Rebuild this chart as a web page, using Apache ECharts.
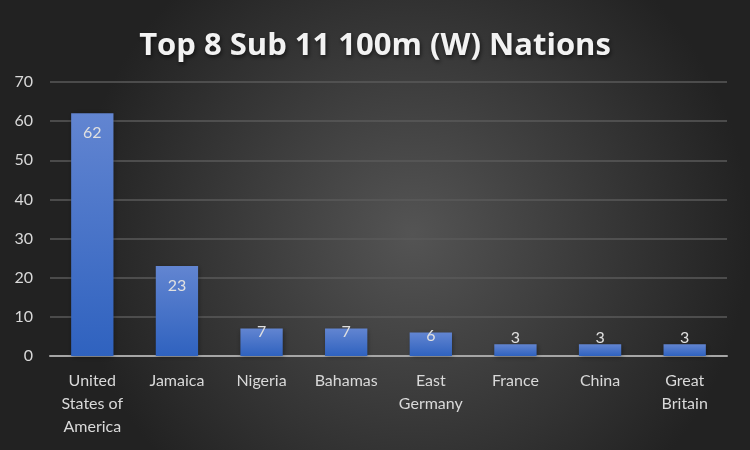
<!DOCTYPE html>
<html><head><meta charset="utf-8">
<script src="https://cdn.jsdelivr.net/npm/echarts@6/dist/echarts.min.js"></script>
<style>html,body{margin:0;padding:0;background:#333}#c{width:750px;height:450px}</style>
</head><body><div id="c"></div>
<script>
const categories = ["United\nStates of\nAmerica", "Jamaica", "Nigeria", "Bahamas", "East\nGermany", "France", "China", "Great\nBritain"];
const counts = [62, 23, 7, 7, 6, 3, 3, 3];
const yTicks = [0, 10, 20, 30, 40, 50, 60, 70];
const titleText = "Top 8 Sub 11 100m (W) Nations";

const FONT = 'Lato';
const chart = echarts.init(document.getElementById('c'), null, {renderer: 'canvas'});
const barData = counts.map(v => {
  let label;
  if (v >= 10) label = {position: 'insideTop', distance: 12};
  else if (v >= 5) label = {position: 'insideTop', distance: -5};
  else label = {position: 'top', distance: -2};
  return {value: v, label};
});
chart.setOption({
  backgroundColor: {type: 'radial', x: 0.55, y: 0.52, r: 0.75, colorStops: [
    {offset: 0, color: '#545454'}, {offset: 1, color: '#222222'}]},
  title: {text: titleText, left: 'center', top: 26,
    textStyle: {color: '#f2f2f2', fontFamily: 'Open Sans', fontWeight: 'bold', fontSize: 31,
      textShadowColor: 'rgba(0,0,0,0.6)', textShadowBlur: 4, textShadowOffsetX: 1, textShadowOffsetY: 2}},
  grid: {left: 50, right: 23, top: 82, bottom: 94},
  xAxis: {type: 'category', data: categories,
    axisLine: {lineStyle: {color: '#a6a6a6', width: 2}},
    axisTick: {show: false},
    axisLabel: {color: '#d9d9d9', fontFamily: FONT, fontSize: 16, lineHeight: 23, margin: 13, interval: 0}},
  yAxis: {type: 'value', min: yTicks[0], max: yTicks[yTicks.length - 1], interval: 10,
    axisLine: {show: false}, axisTick: {show: false},
    splitLine: {lineStyle: {color: '#5a5a5a', width: 1.5}},
    axisLabel: {color: '#d9d9d9', fontFamily: FONT, fontSize: 16, margin: 17}},
  series: [{type: 'bar', data: barData, barCategoryGap: '50%',
    itemStyle: {color: {type: 'linear', x: 0, y: 0, x2: 0, y2: 1, colorStops: [
      {offset: 0, color: '#6285d1'}, {offset: 1, color: '#2f62bf'}]},
      shadowColor: 'rgba(0,0,0,0.4)', shadowBlur: 5, shadowOffsetX: 1, shadowOffsetY: 1},
    label: {show: true, color: '#e0e0e0', fontFamily: FONT, fontSize: 16}}]
});
</script></body></html>
